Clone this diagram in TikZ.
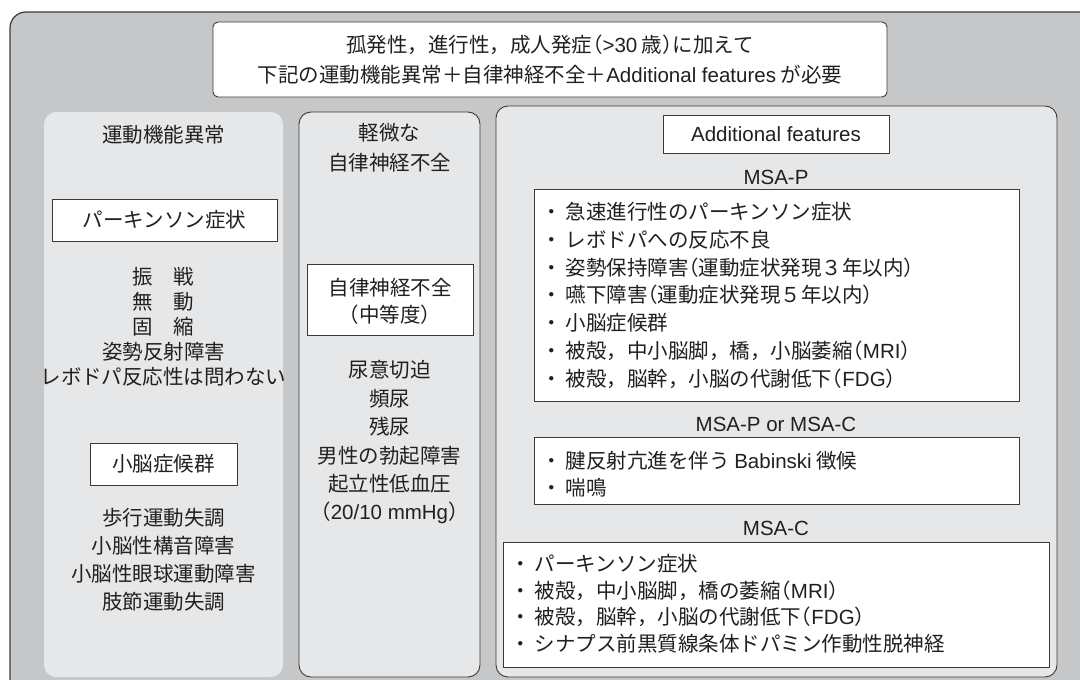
\documentclass[tikz,border=0pt]{standalone}
\usepackage{fontspec}
\setmainfont{Noto Sans CJK JP}
\newfontfamily\lat{Liberation Sans}
\newfontfamily\jphalf[RawFeature=+halt]{Noto Sans CJK JP}
\definecolor{outergrey}{HTML}{C6C7C9}
\definecolor{colgrey}{HTML}{E6E7E8}
\definecolor{edge}{HTML}{3A3A3A}
\definecolor{ink}{HTML}{231F20}
\newcommand\mybul{・\hspace{4pt}}
\newcommand\hlp{{\jphalf （}}
\newcommand\hrp{{\jphalf ）}}
\begin{document}
\begin{tikzpicture}[x=1pt,y=-1pt,
  txt/.style={font=\fontsize{20.5}{24}\selectfont, text=ink, inner sep=0pt},
  ln/.style={txt, anchor=base},
  lnw/.style={txt, anchor=base west},
  wbox/.style={draw=edge, fill=white, line width=0.9pt},
  tbox/.style={wbox, txt},
  col/.style={fill=colgrey, rounded corners=12pt},
]
\useasboundingbox (0,0) rectangle (1080,680);
\fill[white] (0,0) rectangle (1080,680);
\begin{scope}
  \clip (0,0) rectangle (1080,680);
  \draw[fill=outergrey, draw=edge, line width=1.2pt, rounded corners=16pt] (10,12) rectangle (1120,720);
\end{scope}

% top box
\draw[wbox, rounded corners=5pt] (213,22) rectangle (887,97);
\node[ln] (top1) at (550,52.8) {孤発性，進行性，成人発症\hlp{\lat >30} 歳\hrp に加えて};
\node[ln] (top2) at (550,82.8) {下記の運動機能異常＋自律神経不全＋{\lat Additional features} が必要};

% left column
\fill[col] (44,112) rectangle (283,677);
\node[ln] (motor) at (163.5,142.8) {運動機能異常};
\node[tbox, minimum width=225pt, minimum height=42pt] (pk) at (164.5,220) {パーキンソン症状};
\foreach \t [count=\i] in {{振　戦},{無　動},{固　縮},{姿勢反射障害},{レボドパ反応性は問わない}}
  \node[ln] (pkl\i) at (163.5,{284.8+(\i-1)*25}) {\t};
\node[tbox, minimum width=147pt, minimum height=42pt] (cb) at (163.5,464) {小脳症候群};
\foreach \t [count=\i] in {{歩行運動失調},{小脳性構音障害},{小脳性眼球運動障害},{肢節運動失調}}
  \node[ln] (cbl\i) at (163.5,{525.8+(\i-1)*28}) {\t};

% middle column
\draw[col, draw=edge, line width=0.9pt] (299,112) rectangle (480,677);
\node[ln] (mild1) at (389.5,140.8) {軽微な};
\node[ln] (mild2) at (389.5,170.8) {自律神経不全};
\draw[wbox] (307,264) rectangle (473,335);
\node[ln] (mod1) at (390,295.8) {自律神経不全};
\node[ln] (mod2) at (390,322.8) {\hlp 中等度\hrp};
\foreach \t [count=\i] in {{尿意切迫},{頻尿},{残尿},{男性の勃起障害},{起立性低血圧},{\hlp{\lat 20/10 mmHg}\hrp}}
  \node[ln] (aul\i) at (389.5,{377.8+(\i-1)*28.4}) {\t};

% right column
\draw[col, draw=edge, line width=0.9pt] (496,106) rectangle (1057,677);
\node[tbox, minimum width=226pt, minimum height=38pt] (af) at (776,134) {\lat Additional features};
\node[txt] (msap) at (776,177) {\lat MSA-P};
\draw[wbox] (534,189) rectangle (1019,401);
\foreach \t [count=\i] in {{急速進行性のパーキンソン症状},{レボドパへの反応不良},{姿勢保持障害\hlp 運動症状発現３年以内\hrp},{嚥下障害\hlp 運動症状発現５年以内\hrp},{小脳症候群},{被殻，中小脳脚，橋，小脳萎縮\hlp{\lat MRI}\hrp},{被殻，脳幹，小脳の代謝低下\hlp{\lat FDG}\hrp}}
  \node[lnw] (pl\i) at (541,{219.8+(\i-1)*27.7}) {\mybul\t};
\node[txt] (msapc) at (776,424) {\lat MSA-P or MSA-C};
\draw[wbox] (534,437) rectangle (1019,504);
\node[lnw] (pc1) at (541,468.8) {\mybul 腱反射亢進を伴う {\lat Babinski} 徴候};
\node[lnw] (pc2) at (541,495.8) {\mybul 喘鳴};
\node[txt] (msac) at (776,528) {\lat MSA-C};
\draw[wbox] (503,542) rectangle (1049,667);
\foreach \t [count=\i] in {{パーキンソン症状},{被殻，中小脳脚，橋の萎縮\hlp{\lat MRI}\hrp},{被殻，脳幹，小脳の代謝低下\hlp{\lat FDG}\hrp},{シナプス前黒質線条体ドパミン作動性脱神経}}
  \node[lnw] (cl\i) at (510,{571.8+(\i-1)*26.5}) {\mybul\t};
\end{tikzpicture}
\end{document}
